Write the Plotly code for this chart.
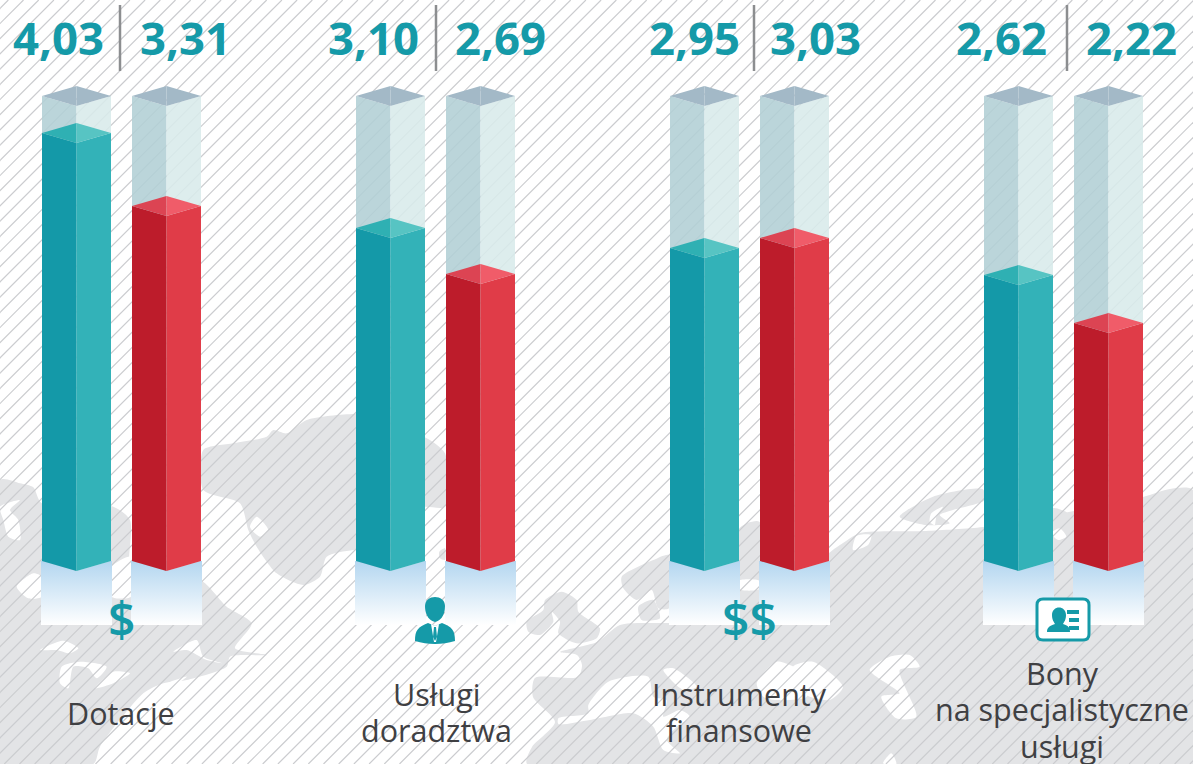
import plotly.graph_objects as go

# ---------- data ----------
categories = [["Dotacje"], ["Usługi", "doradztwa"], ["Instrumenty", "finansowe"],
              ["Bony", "na specjalistyczne", "usługi"]]
shown_left = ["4,03", "3,10", "2,95", "2,62"]
shown_right = ["3,31", "2,69", "3,03", "2,22"]
# bar heights, in the same units as the labels
height_left = [4.011, 3.121, 2.933, 2.680]
height_right = [3.327, 2.690, 3.027, 2.231]
track_height = 4.358
# ---------- layout constants ----------
W, H = 1193, 764
BASE_PX = 561
PX_PER_UNIT = 106.7
group_x = [42, 356, 670, 984]
BAR_W = 69
BAR_GAP = 90
DIP = 10 / PX_PER_UNIT
label_x_left = [58, 373, 694, 1001]
label_x_right = [185, 500, 815, 1131]
divider_x = [120, 436, 754, 1067]
cat_x = [121, 436, 739, 1062]
cat_y = [[713], [694, 730], [694, 730], [673, 709, 746]]
TEAL = "#159aa8"
TEXT = "#3f4043"
LAND = "#e3e4e6"
HATCH = "#cbcccf"
FONT = "Open Sans"

fig = go.Figure()


def poly(pts, color, yaxis="y", spline=False):
    xs = [p[0] for p in pts] + [pts[0][0]]
    ys = [p[1] for p in pts] + [pts[0][1]]
    line = dict(width=0, shape="spline", smoothing=0.7) if spline else dict(width=0)
    fig.add_trace(go.Scatter(x=xs, y=ys, mode="lines", fill="toself", fillcolor=color,
                             line=line, yaxis=yaxis, hoverinfo="skip", showlegend=False))


def z(ox, oy, pts):
    return [(ox + a / 3, oy + b / 3) for a, b in pts]


# ---------- world map backdrop (pixel axis) ----------
land = [
    z(0, 400, [(0, 240), (60, 250), (100, 262), (125, 310), (340, 320), (390, 360), (395, 540), (600, 540),
               (680, 620), (755, 670), (705, 745), (800, 765), (690, 770), (680, 800), (560, 840), (490, 850),
               (430, 880), (300, 1040), (280, 1092), (0, 1092)]),
    z(0, 400, [(610, 150), (700, 130), (800, 110), (820, 90), (860, 100), (920, 60), (1065, 42), (1200, 60),
               (1200, 330), (1200, 450), (1060, 450), (980, 470), (960, 530), (910, 555), (830, 520), (770, 440),
               (745, 390), (720, 310), (610, 270)]),
    z(400, 400, [(70, 110), (135, 160), (135, 320), (75, 320), (0, 330), (0, 110)]),
    z(400, 400, [(118, 455), (135, 445), (135, 480), (120, 475)]),
    # British Isles
    z(520, 540, [(75, 180), (125, 155), (170, 180), (175, 215), (240, 265), (230, 295), (170, 310), (115, 280),
                 (120, 245), (95, 215), (100, 245), (60, 285), (25, 275), (20, 245), (70, 210)]),
    # Scandinavia and Denmark
    z(520, 540, [(305, 110), (400, 60), (447, 45), (447, 205), (415, 205), (395, 150), (350, 180), (310, 145)]),
    z(520, 540, [(355, 200), (400, 180), (420, 235), (365, 240)]),
    # strip between the third pair of bars
    z(400, 400, [(1018, 385), (1078, 365), (1078, 690), (1018, 690)]),
    # Eurasia and Africa
    [(560, 652), (597, 642), (620, 625), (669, 623), (760, 620), (829, 553), (843, 543), (860, 533), (926, 531),
     (983, 527), (1053, 515), (1143, 497), (1170, 489), (1193, 490), (1193, 764), (527, 764), (532, 747),
     (555, 722), (533, 697), (535, 678), (578, 677), (582, 665), (577, 655)],
    z(793, 400, [(320, 350), (420, 290), (570, 268), (575, 300), (480, 330), (440, 345), (470, 370), (400, 375)]),
    z(793, 400, [(780, 325), (825, 340), (840, 380), (780, 380)]),
]
for p in land:
    poly(p, LAND, spline=True)

holes = [
    z(0, 400, [(0, 320), (60, 300), (30, 330), (55, 360), (60, 420), (25, 410), (10, 360)]),
    z(0, 400, [(50, 560), (100, 520), (125, 530), (125, 590), (85, 595)]),
    z(0, 400, [(120, 750), (190, 722), (235, 745), (210, 760), (170, 750)]),
    z(0, 400, [(185, 800), (240, 785), (320, 800), (290, 835), (265, 805), (220, 800), (205, 865), (180, 850)]),
    z(0, 400, [(285, 865), (340, 815), (390, 820), (340, 850)]),
    z(0, 400, [(335, 500), (393, 470), (393, 590), (335, 590)]),
    z(0, 400, [(520, 755), (590, 720), (610, 770), (670, 790), (620, 780), (560, 750)]),
    z(0, 400, [(430, 885), (500, 850), (560, 830), (500, 870)]),
    z(0, 400, [(770, 350), (805, 390), (780, 410), (750, 380)]),
    # Mediterranean
    z(520, 540, [(205, 495), (265, 425), (385, 410), (400, 470), (440, 480), (430, 530), (480, 510), (510, 530),
                 (470, 560), (440, 600), (480, 640), (430, 630), (400, 560), (340, 520), (210, 540), (115, 552),
                 (115, 535), (205, 520)]),
    z(520, 540, [(430, 390), (460, 385), (530, 440), (490, 450)]),
    # Black Sea and Caspian
    z(520, 540, [(710, 430), (770, 365), (850, 400), (860, 470), (770, 480), (730, 470)]),
    z(793, 400, [(0, 800), (60, 785), (150, 860), (110, 900), (30, 880)]),
    z(793, 400, [(230, 810), (290, 770), (350, 765), (380, 800), (320, 810), (370, 950), (310, 955), (265, 890),
                 (320, 880)]),
    z(793, 400, [(270, 1090), (295, 1060), (310, 1092)]),
    z(520, 540, [(657, 122), (717, 122), (717, 148), (657, 148)]),
    z(793, 400, [(775, 400), (800, 385), (820, 410), (795, 420)]),
    z(793, 400, [(415, 340), (450, 320), (430, 350), (425, 375), (410, 365)]),
    z(793, 400, [(180, 450), (190, 408), (235, 405), (225, 435)]),
]
for p in holes:
    poly(p, "#ffffff", spline=True)

# ---------- diagonal hatching (pixel axis) ----------
hx, hy = [], []
step = 15.2
c = 646.7 - 100 * step - H
while c < W + H:
    hx += [c, c + H, None]
    hy += [H, 0, None]
    c += step
fig.add_trace(go.Scatter(x=hx, y=hy, mode="lines", line=dict(color=HATCH, width=1.2),
                         hoverinfo="skip", showlegend=False))


# ---------- bars (value axis) ----------
def prism(x0, v, left, right, top_l, top_r, yaxis="y2"):
    xm, x1 = x0 + BAR_W / 2, x0 + BAR_W
    low_s, low_c = 0, -DIP
    poly([(x0, low_s), (xm, low_c), (xm, v - DIP), (x0, v)], left, yaxis)
    poly([(xm, low_c), (x1, low_s), (x1, v), (xm, v - DIP)], right, yaxis)
    poly([(x0, v), (xm, v + DIP), (xm, v - DIP)], top_l, yaxis)
    poly([(xm, v + DIP), (x1, v), (xm, v - DIP)], top_r, yaxis)


def reflection(x0):
    a, b = x0 - 1, x0 + BAR_W + 1
    fig.add_trace(go.Scatter(
        x=[a, b, b, a, a], y=[0, 0, -64 / PX_PER_UNIT, -64 / PX_PER_UNIT, 0], yaxis="y2", mode="lines",
        fill="toself", line=dict(width=0), hoverinfo="skip", showlegend=False,
        fillgradient=dict(type="vertical", colorscale=[[0, "#ffffff"], [1, "#b3d6f0"]])))


for i, gx in enumerate(group_x):
    for x0, v, cols in [
        (gx, height_left[i], ("#1499a8", "#33b2b8", "#2fb0b3", "#57c4c3")),
        (gx + BAR_GAP, height_right[i], ("#bd1c2b", "#e03c48", "#dc4453", "#f05c69")),
    ]:
        reflection(x0)
        prism(x0, track_height, "rgba(178,207,213,0.88)", "rgba(216,234,234,0.88)", "#a3b9c7", "#a3b9c7")
        prism(x0, v, *cols)

# ---------- text ----------
ann = []
for i in range(4):
    for x, t in [(label_x_left[i], shown_left[i]), (label_x_right[i], shown_right[i])]:
        ann.append(dict(x=x, y=37, text=t, xref="x", yref="y", showarrow=False, yanchor="middle",
                        font=dict(family=FONT, size=45.5, color=TEAL, weight=700)))
    for t, yy in zip(categories[i], cat_y[i]):
        ann.append(dict(x=cat_x[i], y=yy, text=t, xref="x", yref="y", showarrow=False, yanchor="middle",
                        font=dict(family=FONT, size=30.5, color=TEXT)))
for x, t in [(121, "$"), (749, "$$")]:
    ann.append(dict(x=x, y=618, text=t, xref="x", yref="y", showarrow=False, yanchor="middle",
                    font=dict(family=FONT, size=48, color=TEAL, weight=600)))

# ---------- dividers and icons ----------
shapes = [dict(type="line", x0=x, x1=x, y0=5, y1=71, xref="x", yref="y",
               line=dict(color="#8c8e90", width=2.5)) for x in divider_x]


def path(d, fill, line=None):
    return dict(type="path", path=d, xref="x", yref="y", fillcolor=fill, layer="above",
                line=line or dict(width=0))


shapes += [
    # person in a suit
    path("M 425 606 C 425 594 445 594 445 606 C 445 612 443 620 435 622 C 427 620 425 612 425 606 Z", TEAL),
    path("M 415 641 C 415 630 418 627 428 623 L 435 626 L 442 623 C 452 627 455 630 455 641 "
         "C 442 645 428 645 415 641 Z", TEAL),
    path("M 431 624 L 435 626 L 439 624 L 436 642 L 434 642 Z", "#ffffff"),
    path("M 434 627 L 436 627 L 437 637 L 435 641 L 433 637 Z", TEAL),
    # voucher card
    dict(type="path", xref="x", yref="y", layer="above", fillcolor="#ffffff", line=dict(color=TEAL, width=3),
         path="M 1043 599 L 1083 599 Q 1089 599 1089 605 L 1089 634 Q 1089 640 1083 640 L 1043 640 "
              "Q 1037 640 1037 634 L 1037 605 Q 1037 599 1043 599 Z"),
    path("M 1052 615 C 1052 605 1066 605 1066 615 C 1066 620 1064 622 1063 624 C 1069 626 1070 628 1070 632 "
         "L 1047 632 C 1047 628 1049 626 1055 624 C 1054 622 1052 620 1052 615 Z", TEAL),
    path("M 1067 610 L 1079 610 L 1079 614 L 1067 614 Z", TEAL),
    path("M 1069 618 L 1079 618 L 1079 622 L 1069 622 Z", TEAL),
    path("M 1069 626 L 1079 626 L 1079 630 L 1069 630 Z", TEAL),
]

hidden = dict(visible=False, fixedrange=True)
fig.update_layout(
    width=W, height=H, margin=dict(l=0, r=0, t=0, b=0), autosize=False,
    paper_bgcolor="#ffffff", plot_bgcolor="#ffffff", showlegend=False,
    xaxis=dict(range=[0, W], **hidden),
    yaxis=dict(range=[H, 0], **hidden),
    yaxis2=dict(range=[(BASE_PX - H) / PX_PER_UNIT, BASE_PX / PX_PER_UNIT], overlaying="y", **hidden),
    annotations=ann, shapes=shapes,
)
fig.write_html("out.html", config=dict(displayModeBar=False, responsive=False),
               post_script="document.body.style.margin='0';document.body.style.overflow='hidden';")
